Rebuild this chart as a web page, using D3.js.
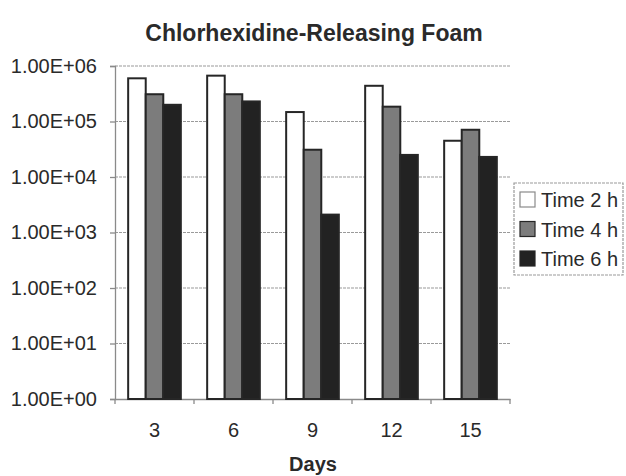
<!DOCTYPE html>
<html>
<head>
<meta charset="utf-8">
<script src="https://cdn.jsdelivr.net/npm/d3@7"></script>
<style>
  html, body { margin: 0; padding: 0; background: #fff; }
  svg { display: block; font-family: "Liberation Sans", Arial, sans-serif; }
</style>
</head>
<body>
<svg id="chart" width="626" height="476"></svg>
<script>
// Days sampled
const days = ["3", "6", "9", "12", "15"];
// Series names
const seriesNames = ["Time 2 h", "Time 4 h", "Time 6 h"];
// Counts per day for each time point
const time2h = [6.0e5, 6.7e5, 1.48e5, 4.4e5, 4.5e4];
const time4h = [3.1e5, 3.1e5, 3.1e4, 1.85e5, 7.1e4];
const time6h = [2.0e5, 2.3e5, 2.1e3, 2.5e4, 2.3e4];
// Y-axis tick values and labels
const yTicks = [1, 10, 100, 1000, 1e4, 1e5, 1e6];
const yTickLabels = ["1.00E+00", "1.00E+01", "1.00E+02", "1.00E+03", "1.00E+04", "1.00E+05", "1.00E+06"];

const seriesValues = [time2h, time4h, time6h];
const fills = ["#ffffff", "#7c7c7c", "#222222"];

const svg = d3.select("#chart");
const plot = { left: 115, right: 510, top: 66, bottom: 399 };

const x = d3.scaleBand().domain(days).range([plot.left, plot.right]).paddingInner(0).paddingOuter(0);
const groupPad = 1.5; // gap between groups, in bar widths
const barW = x.bandwidth() / (seriesNames.length + groupPad);
const xs = d3.scaleBand().domain(seriesNames)
  .range([barW * groupPad / 2, barW * groupPad / 2 + barW * seriesNames.length]);

const y = d3.scaleLog().domain([1, 1e6]).range([plot.bottom, plot.top]);

// Title
svg.append("text")
  .attr("x", 314).attr("y", 41)
  .attr("text-anchor", "middle")
  .attr("font-weight", "bold").attr("font-size", 23)
  .attr("fill", "#2a2a2a")
  .text("Chlorhexidine-Releasing Foam");

// Horizontal gridlines
svg.append("g").selectAll("line")
  .data(yTicks.slice(1))
  .join("line")
  .attr("x1", plot.left).attr("x2", plot.right)
  .attr("y1", d => y(d)).attr("y2", d => y(d))
  .attr("stroke", "#9a9a9a").attr("stroke-width", 1.2)
  .attr("stroke-dasharray", "3,1");

// Y axis
const yAxis = d3.axisLeft(y)
  .tickValues(yTicks)
  .tickFormat((d, i) => yTickLabels[i])
  .tickSize(5).tickPadding(13);
const gy = svg.append("g").attr("transform", `translate(${plot.left},0)`).call(yAxis);
gy.select(".domain").attr("stroke", "#8a8a8a").attr("stroke-width", 1.3);
gy.selectAll(".tick line").attr("stroke", "#8a8a8a").attr("stroke-width", 1.3);
gy.selectAll(".tick text")
  .attr("font-size", 20).attr("fill", "#2a2a2a")
  .attr("font-family", "Liberation Sans, Arial, sans-serif");

// X axis
const xAxis = d3.axisBottom(x).tickSize(0).tickPadding(24);
const gx = svg.append("g").attr("transform", `translate(0,${plot.bottom})`).call(xAxis);
gx.select(".domain").attr("stroke", "#8a8a8a").attr("stroke-width", 1.3);
gx.selectAll(".tick text")
  .attr("font-size", 20).attr("fill", "#2a2a2a")
  .attr("font-family", "Liberation Sans, Arial, sans-serif");
// Tick marks between categories
svg.append("g").selectAll("line")
  .data(d3.range(days.length + 1))
  .join("line")
  .attr("x1", i => plot.left + i * x.bandwidth())
  .attr("x2", i => plot.left + i * x.bandwidth())
  .attr("y1", plot.bottom).attr("y2", plot.bottom + 5)
  .attr("stroke", "#8a8a8a").attr("stroke-width", 1.3);

// Bars
const groups = svg.append("g").selectAll("g")
  .data(days)
  .join("g")
  .attr("transform", d => `translate(${x(d)},0)`);

groups.selectAll("rect")
  .data((d, i) => seriesNames.map((s, j) => ({ s, j, v: seriesValues[j][i] })))
  .join("rect")
  .attr("x", d => xs(d.s))
  .attr("width", xs.bandwidth())
  .attr("y", d => y(d.v))
  .attr("height", d => y(1) - y(d.v))
  .attr("fill", d => fills[d.j])
  .attr("stroke", "#262626")
  .attr("stroke-width", 2);

// X axis title
svg.append("text")
  .attr("x", 313).attr("y", 471)
  .attr("text-anchor", "middle")
  .attr("font-weight", "bold").attr("font-size", 20)
  .attr("fill", "#2a2a2a")
  .text("Days");

// Legend
const lg = svg.append("g").attr("transform", "translate(514,183)");
lg.append("rect")
  .attr("x", 0).attr("y", 0).attr("width", 109).attr("height", 92)
  .attr("fill", "#fff").attr("stroke", "#9a9a9a").attr("stroke-width", 1.2)
  .attr("stroke-dasharray", "3,1");
const items = lg.selectAll("g.item")
  .data(seriesNames)
  .join("g")
  .attr("class", "item")
  .attr("transform", (d, i) => `translate(6,${16 + i * 29.5})`);
items.append("rect")
  .attr("x", 0).attr("y", -7).attr("width", 15).attr("height", 15)
  .attr("fill", (d, i) => fills[i])
  .attr("stroke", (d, i) => i === 0 ? "#8a8a8a" : "#262626")
  .attr("stroke-width", 1.2);
items.append("text")
  .attr("x", 21).attr("y", 8)
  .attr("font-size", 20).attr("fill", "#2a2a2a")
  .text(d => d);
</script>
</body>
</html>
